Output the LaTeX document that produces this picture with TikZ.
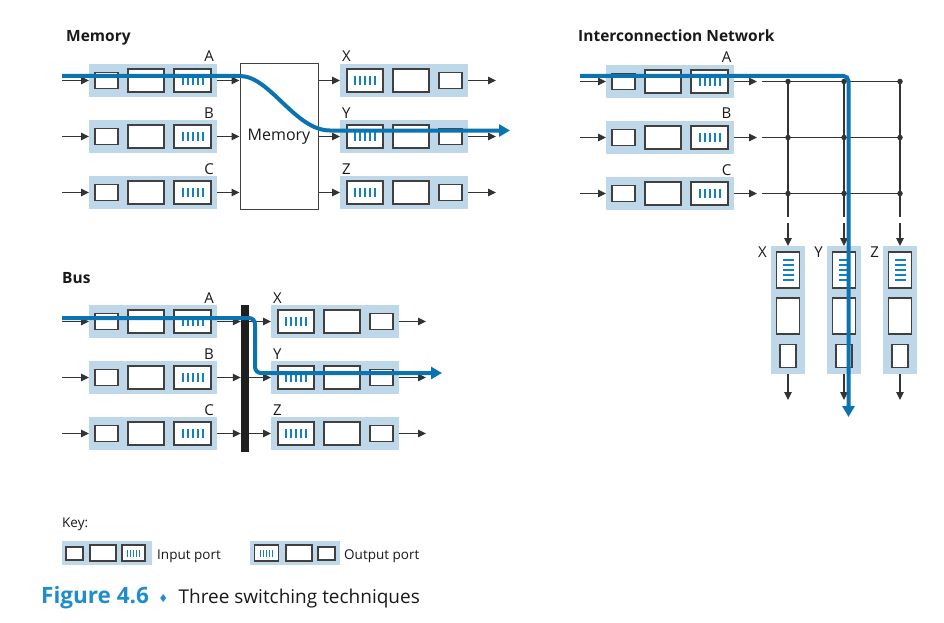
\documentclass[tikz,border=0pt]{standalone}
\usepackage{fontspec}
\setmainfont{Open Sans}
\newfontfamily\symfont{DejaVu Sans}
\usetikzlibrary{arrows.meta}
\definecolor{portblue}{HTML}{BED8EA}
\definecolor{qblue}{HTML}{1580C0}
\definecolor{pathblue}{HTML}{0A73B0}
\definecolor{linegray}{HTML}{333333}
\definecolor{boxgray}{HTML}{404040}
\definecolor{figblue}{HTML}{1F8CCB}
\definecolor{txt}{HTML}{1A1A1A}
\tikzset{
  portbg/.style={fill=portblue, draw=none, inner sep=0pt, outer sep=0pt},
  pbox/.style={draw=boxgray, line width=1.1pt, fill=white, inner sep=0pt, outer sep=0pt},
  qbar/.style={draw=qblue, line width=2pt},
  kbar/.style={draw=qblue, line width=1.4pt},
  arr/.style={draw=linegray, line width=1.1pt, -{Triangle[length=8pt,width=7.5pt]}},
  flow/.style={draw=pathblue, line width=4pt, -{Triangle[length=11pt,width=12pt]}},
  lbl/.style={font=\fontsize{15}{18}\selectfont, text=txt, inner sep=0pt},
  ttl/.style={font=\bfseries\fontsize{15.5}{18}\selectfont, text=txt, inner sep=0pt, anchor=base west},
  keytxt/.style={font=\fontsize{13.5}{16}\selectfont, text=txt, inner sep=0pt, anchor=base west},
  gridline/.style={draw=linegray, line width=1.2pt},
  gdot/.style={circle, fill=linegray, inner sep=0pt, minimum size=5.5pt},
  membox/.style={draw=boxgray, line width=1pt, fill=white, inner sep=0pt, minimum width=78pt, minimum height=145pt, font=\fontsize{16}{19}\selectfont, text=txt},
  busbar/.style={fill=black!88, draw=none, inner sep=0pt, minimum width=8pt, minimum height=147pt},
  inport/.pic={
    \node[portbg, minimum width=128pt, minimum height=33pt] (-bg) at (64,0) {};
    \node[pbox, minimum width=23pt, minimum height=16pt] (-s) at (17.5,0) {};
    \node[pbox, minimum width=36pt, minimum height=23pt] (-m) at (57,0) {};
    \node[pbox, minimum width=37pt, minimum height=23pt] (-q) at (103.5,0) {};
    \foreach \d in {-10,-5,0,5,10}{\draw[qbar] (103.5+\d,-4.5) -- (103.5+\d,4.5);}
  },
  outport/.pic={
    \node[portbg, minimum width=128pt, minimum height=33pt] (-bg) at (64,0) {};
    \node[pbox, minimum width=36pt, minimum height=23pt] (-q) at (25,0) {};
    \foreach \d in {-10,-5,0,5,10}{\draw[qbar] (25+\d,-4.5) -- (25+\d,4.5);}
    \node[pbox, minimum width=36pt, minimum height=23pt] (-m) at (71,0) {};
    \node[pbox, minimum width=23pt, minimum height=16pt] (-s) at (110.5,0) {};
  },
  colport/.pic={
    \node[portbg, minimum width=34pt, minimum height=128pt] (-bg) at (0,64) {};
    \node[pbox, minimum width=23pt, minimum height=36pt] (-q) at (0,24) {};
    \foreach \d in {-10,-5,0,5,10}{\draw[qbar] (-5.5,24+\d) -- (5.5,24+\d);}
    \node[pbox, minimum width=23pt, minimum height=36pt] (-m) at (0,70) {};
    \node[pbox, minimum width=16pt, minimum height=23pt] (-s) at (0,110) {};
  }
}
\begin{document}
\begin{tikzpicture}[x=1pt,y=-1pt]
\fill[white] (0,0) rectangle (944,623);
\useasboundingbox (0,0) rectangle (944,623);

% ================= MEMORY =================
\node[ttl] (tmem) at (66,42) {Memory};
\node[membox] (mem) at (279,136.5) {Memory};
\foreach \n/\y in {A/80.5,B/136.5,C/192.5}{
  \pic (m\n) at (89,\y) {inport};
  \node[lbl, anchor=base east] (ml\n) at ([xshift=-3pt,yshift=2pt]m\n-bg.north east) {\n};
  \coordinate (min\n) at (62,\y);
  \draw[arr] (min\n) -- (m\n-bg.west);
  \draw[arr] (m\n-bg.east) -- (m\n-bg.east -| mem.west);
}
\foreach \n/\l/\y in {X/X/80.5,Y/Y/136.5,Z/Z/192.5}{
  \pic (mo\n) at (340,\y) {outport};
  \node[lbl, anchor=base west] (mol\n) at ([xshift=2pt,yshift=2pt]mo\n-bg.north west) {\l};
  \coordinate (mout\n) at (496,\y);
  \draw[arr] (mo\n-bg.west -| mem.east) -- (mo\n-bg.west);
  \draw[arr] (mo\n-bg.east) -- (mout\n);
}
\coordinate (mf0) at (62,76);
\coordinate (mf1) at (240,76);
\coordinate (mf2) at (330,130.5);
\coordinate (mf3) at (510,130.5);
\draw[flow] (mf0) -- (mf1) .. controls (270,76) and (295,130.5) .. (mf2) -- (mf3);

% ================= INTERCONNECTION =================
\node[ttl] (tint) at (578,42) {Interconnection Network};
\foreach \n/\y in {A/81.5,B/137.5,C/193.5}{
  \pic (x\n) at (606,\y) {inport};
  \node[lbl, anchor=base east] (xl\n) at ([xshift=-2.5pt,yshift=2pt]x\n-bg.north east) {\n};
  \coordinate (xin\n) at (580,\y);
  \coordinate (xtip\n) at (757,\y);
  \coordinate (gs\n) at (762,\y);
  \draw[arr] (xin\n) -- (x\n-bg.west);
  \draw[arr] (x\n-bg.east) -- (xtip\n);
  \foreach \c/\cx in {1/788,2/844,3/900}{
    \coordinate (g\n\c) at (\cx,\y);
  }
  \draw[gridline] (gs\n) -- (g\n3);
}
\foreach \c/\cx/\l in {1/788/X,2/844/Y,3/900/Z}{
  \coordinate (ge\c) at (\cx,217);
  \coordinate (cs\c) at (\cx,223);
  \coordinate (ce\c) at (\cx,400);
  \draw[gridline] (gA\c) -- (ge\c);
  \pic (col\c) at (\cx,246) {colport};
  \node[lbl, anchor=base east] (cl\c) at ([xshift=-4pt,yshift=-11pt]col\c-bg.north west) {\l};
  \draw[arr] (cs\c) -- (col\c-bg.north);
  \draw[arr] (col\c-bg.south) -- (ce\c);
}
\foreach \n in {A,B,C}{
  \foreach \c in {1,2,3}{
    \node[gdot] (d\n\c) at (g\n\c) {};
  }
}
\coordinate (xf0) at (580,76);
\coordinate (xf1) at (848.5,76);
\coordinate (xf2) at (848.5,417);
\draw[flow, rounded corners=5pt] (xf0) -- (xf1) -- (xf2);

% ================= BUS =================
\node[ttl] (tbus) at (62,283) {Bus};
\node[busbar] (bus) at (245,378.5) {};
\foreach \n/\y in {A/321.5,B/377.5,C/433.5}{
  \pic (b\n) at (89,\y) {inport};
  \node[lbl, anchor=base east] (bl\n) at ([xshift=-3pt,yshift=2pt]b\n-bg.north east) {\n};
  \coordinate (bin\n) at (62,\y);
  \draw[arr] (bin\n) -- (b\n-bg.west);
  \draw[arr] (b\n-bg.east) -- (b\n-bg.east -| bus.west);
}
\foreach \n/\y in {X/321.5,Y/377.5,Z/433.5}{
  \pic (bo\n) at (271,\y) {outport};
  \node[lbl, anchor=base west] (bol\n) at ([xshift=2pt,yshift=2pt]bo\n-bg.north west) {\n};
  \coordinate (bout\n) at (426,\y);
  \draw[arr] (bo\n-bg.west -| bus.east) -- (bo\n-bg.west);
  \draw[arr] (bo\n-bg.east) -- (bout\n);
}
\coordinate (bf0) at (62,318);
\coordinate (bf1) at (255,318);
\coordinate (bf2) at (255,373);
\coordinate (bf3) at (442,373);
\draw[flow, rounded corners=6pt] (bf0) -- (bf1) -- (bf2) -- (bf3);

% ================= KEY =================
\node[keytxt] (key) at (62,527) {Key:};
\node[portbg, minimum width=90pt, minimum height=24pt] (kin) at (107,553) {};
\node[pbox, minimum width=17pt, minimum height=13pt] (kins) at (74.5,553.5) {};
\node[pbox, minimum width=26pt, minimum height=16pt] (kinm) at (103,553) {};
\node[pbox, minimum width=23pt, minimum height=16pt] (kinq) at (133.5,553) {};
\foreach \d in {-6,-3,0,3,6}{\draw[kbar] (133.5+\d,549.5) -- (133.5+\d,556.5);}
\node[keytxt] (kint) at (157,559) {Input port};
\node[portbg, minimum width=90pt, minimum height=24pt] (kout) at (295,553) {};
\node[pbox, minimum width=24pt, minimum height=16pt] (koutq) at (266.5,553) {};
\foreach \d in {-6,-3,0,3,6}{\draw[kbar] (266.5+\d,549.5) -- (266.5+\d,556.5);}
\node[pbox, minimum width=26pt, minimum height=16pt] (koutm) at (299,553) {};
\node[pbox, minimum width=17pt, minimum height=13pt] (kouts) at (326.5,553.5) {};
\node[keytxt] (koutt) at (344,559) {Output port};

% ================= CAPTION =================
\node[anchor=base west, inner sep=0pt, text=figblue, font=\bfseries\fontsize{22.5}{26}\selectfont] (figno) at (41,603) {Figure 4.6};
\node[anchor=base west, inner sep=0pt, text=figblue, font=\symfont\fontsize{11}{13}\selectfont] (dia) at ([xshift=9pt,yshift=1pt]figno.base east) {♦};
\node[anchor=base west, inner sep=0pt, text=txt, font=\fontsize{19}{22}\selectfont] (captxt) at ([xshift=10pt,yshift=-1pt]dia.base east) {Three switching techniques};
\end{tikzpicture}
\end{document}
